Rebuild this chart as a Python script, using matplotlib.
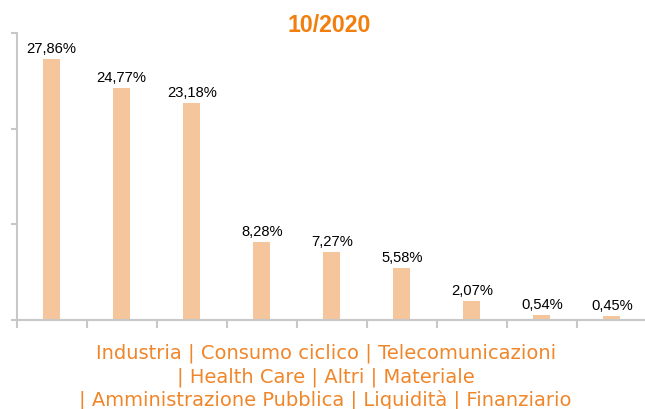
import matplotlib
matplotlib.use('Agg')
import matplotlib.pyplot as plt

# sector weights, 10/2020
categories = ["Industria", "Consumo ciclico", "Telecomunicazioni", "Health Care",
              "Altri", "Materiale", "Amministrazione Pubblica", "Liquidità", "Finanziario"]
weights = [27.86, 24.77, 23.18, 8.28, 7.27, 5.58, 2.07, 0.54, 0.45]
labels = ["27,86%", "24,77%", "23,18%", "8,28%", "7,27%", "5,58%", "2,07%", "0,54%", "0,45%"]

bar_color = '#F5C59B'
title_orange = '#F27E0D'
cat_orange = '#F0862A'
axis_gray = '#C8C8C8'

fig = plt.figure(figsize=(6.45, 4.1), dpi=100)
ax = fig.add_axes([0.0259, 0.217, 0.977, 0.700])

x = list(range(len(categories)))
ax.bar(x, weights, width=0.245, color=bar_color, zorder=2)

for xi, w, lab in zip(x, weights, labels):
    ax.annotate(lab, (xi, w), xytext=(0, 5), textcoords='offset points',
                ha='center', va='baseline', fontsize=10.6,
                family='Liberation Sans', color='black')

ymax = 30.6
ax.set_xlim(-0.5, len(categories) - 0.5)
ax.set_ylim(0, ymax)
ax.set_yticks([0, ymax / 3, 2 * ymax / 3, ymax])
ax.set_yticklabels([])
ax.set_xticks([i - 0.5 for i in range(len(categories))])
ax.set_xticklabels([])

for side in ['top', 'right']:
    ax.spines[side].set_visible(False)
for side in ['left', 'bottom']:
    ax.spines[side].set_color(axis_gray)
    ax.spines[side].set_linewidth(1.5)
ax.tick_params(axis='both', colors=axis_gray, width=1.5, direction='out')
ax.tick_params(axis='y', length=4)
ax.tick_params(axis='x', length=6)

fig.text(0.5097, 0.9227, "10/2020", color=title_orange, fontsize=16.7,
         fontweight='bold', family='Liberation Sans', ha='center', va='baseline')

# category list under the axis, three lines
lines = [" | ".join(categories[:3]),
         "| " + " | ".join(categories[3:6]),
         "| " + " | ".join(categories[6:])]
baselines = [359, 382.7, 405.5]
for txt, yb in zip(lines, baselines):
    fig.text(0.505, 1 - yb / 410, txt, ha='center', va='baseline', color=cat_orange,
             fontsize=14, family='DejaVu Sans')

fig.savefig('out.png', dpi=100)
